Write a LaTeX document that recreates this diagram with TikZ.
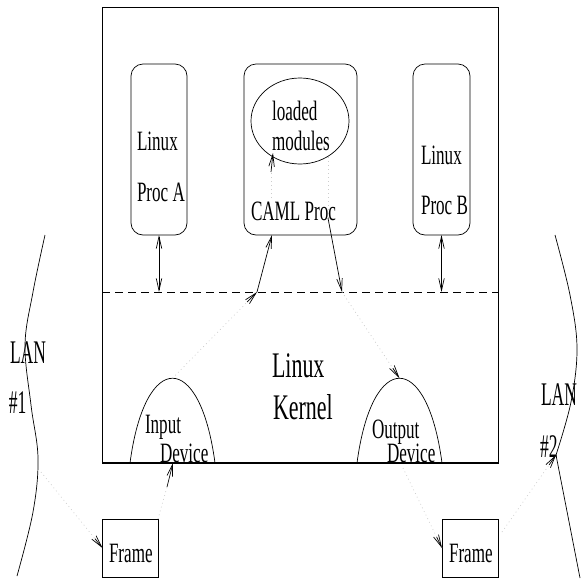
\documentclass[tikz,border=0pt]{standalone}
\usepackage{fontspec}
\newfontfamily\figfont[FakeStretch=0.61]{Liberation Serif}
\newfontfamily\lanfont[FakeStretch=0.53]{Liberation Serif}
\usetikzlibrary{arrows.meta,calc,shapes.geometric}
\begin{document}
\begin{tikzpicture}[x=1pt,y=-1pt,
  every node/.style={inner sep=0pt, outer sep=0pt},
  lbl/.style={anchor=base west, font=\figfont\fontsize{28}{30}\selectfont},
  lanlbl/.style={anchor=base west, font=\lanfont\fontsize{33}{35}\selectfont},
  big/.style={anchor=base west, font=\figfont\fontsize{36}{38}\selectfont},
  box/.style={draw, line width=0.7pt},
  proc/.style={box, rounded corners=12pt},
  arr/.style={line width=0.7pt, -{Straight Barb[length=12pt,width=5.5pt]}},
  darr/.style={line width=0.7pt, {Straight Barb[length=12pt,width=5.5pt]}-{Straight Barb[length=12pt,width=5.5pt]}},
  faint/.style={gray!40, line width=0.7pt, dash pattern=on 0.8pt off 3.2pt},
  curve/.style={line width=0.7pt}]
\useasboundingbox (0,0) rectangle (581,579);
\fill[white] (0,0) rectangle (581,579);

% host box and kernel boundary
\node[box, minimum width=396pt, minimum height=456pt] (host) at (300,235) {};
\draw[line width=1.2pt] (host.south west) -- (host.south east);
\coordinate (dl) at (102,292);
\coordinate (dr) at (498,292);
\draw[line width=0.7pt, dash pattern=on 8pt off 5pt] (dl) -- (dr);

% processes
\node[proc, minimum width=56pt, minimum height=171pt] (procA) at (159,149.5) {};
\node[proc, minimum width=113pt, minimum height=171pt] (caml) at (300.5,149.5) {};
\node[proc, minimum width=57pt, minimum height=171pt] (procB) at (441.5,149.5) {};
\node[box, ellipse, minimum width=98pt, minimum height=86pt] (mods) at (300,121) {};

% texts
\node[lbl] (tA1) at (137,150) {Linux};
\node[lbl] (tA2) at (137,201) {Proc A};
\node[lbl] (tM1) at (272,120) {loaded};
\node[lbl] (tM2) at (272,150) {modules};
\node[lbl] (tC) at (251,220) {CAML Proc};
\node[lbl] (tB1) at (421,164) {Linux};
\node[lbl] (tB2) at (421,214) {Proc B};
\node[big] (tK1) at (272,377) {Linux};
\node[big] (tK2) at (273,419) {Kernel};
\node[lbl] (tI1) at (145,433) {Input};
\node[lbl] (tI2) at (160,462) {Device};
\node[lbl] (tO1) at (372,438) {Output};
\node[lbl] (tO2) at (387,462) {Device};
\node[lanlbl] (tL1) at (10,363) {LAN};
\node[lanlbl] (tL1b) at (9,413) {\#1};
\node[lanlbl] (tL2) at (541,405) {LAN};
\node[lanlbl] (tL2b) at (540,457) {\#2};

% frames
\node[box, minimum width=56pt, minimum height=58pt] (frL) at (130.5,548.5) {};
\node[lbl] (tFL) at (109,562) {Frame};
\node[box, minimum width=56pt, minimum height=58pt] (frR) at (470,548.5) {};
\node[lbl] (tFR) at (449,562) {Frame};

% devices
\draw[curve] (130,463) .. controls (145,350) and (200,350) .. (215,463);
\coordinate (inPeak) at (172.5,378.25);
\draw[curve] (357,463) .. controls (372,350) and (427,350) .. (442,463);
\coordinate (outPeak) at (399.5,378.25);

% LANs
\draw[curve] plot[smooth, tension=0.6] coordinates {(45,235) (33,292) (25,345) (31,405) (38,458) (33,512) (17,576)};
\draw[curve] plot[smooth, tension=0.6] coordinates {(555,235) (570,295) (577,348) (571,402) (556,455)} -- (580,578);
\coordinate (lan1) at (41,472);
\coordinate (lan2) at (556,455);

% proc <-> kernel
\draw[darr] (procA.south) -- (procA.south |- dl);
\draw[darr] (procB.south) -- (procB.south |- dl);

% input path
\coordinate (fLw) at (102.5,548);
\draw[faint] (lan1) -- (fLw);
\draw[arr] ($(fLw)!12pt!(lan1)$) -- (fLw);
\coordinate (fLn) at (158,519);
\coordinate (fL2) at (167,487);
\coordinate (inBase) at (173,463);
\draw[faint] (fLn) -- (fL2);
\draw[arr] (fL2) -- (inBase);
\coordinate (c1) at (257,292);
\draw[faint] (inPeak) -- (c1);
\draw[arr] ($(c1)!14pt!(inPeak)$) -- (c1);
\coordinate (camlIn) at (272,235);
\draw[arr] (c1) -- (camlIn);

% inside CAML
\coordinate (c5) at (271,198);
\coordinate (c6) at (271,172);
\coordinate (mIn) at (273,153);
\draw[faint] (c5) -- (c6);
\draw[arr] (c6) -- (mIn);
\coordinate (mOut) at (328,157);
\coordinate (c3) at (328,218);
\draw[faint] (mOut) -- (c3);

% output path
\coordinate (c4) at (342,292);
\draw[arr] (c3) -- (c4);
\draw[faint] (c4) -- (outPeak);
\draw[arr] ($(outPeak)!12pt!(c4)$) -- (outPeak);
\coordinate (outB) at (403,468);
\coordinate (fRw) at (442,548);
\draw[faint] (outB) -- (fRw);
\draw[arr] ($(fRw)!12pt!(outB)$) -- (fRw);
\coordinate (fRe) at (502,532);
\draw[faint] (fRe) -- (lan2);
\draw[arr] ($(lan2)!12pt!(fRe)$) -- (lan2);
\end{tikzpicture}
\end{document}
